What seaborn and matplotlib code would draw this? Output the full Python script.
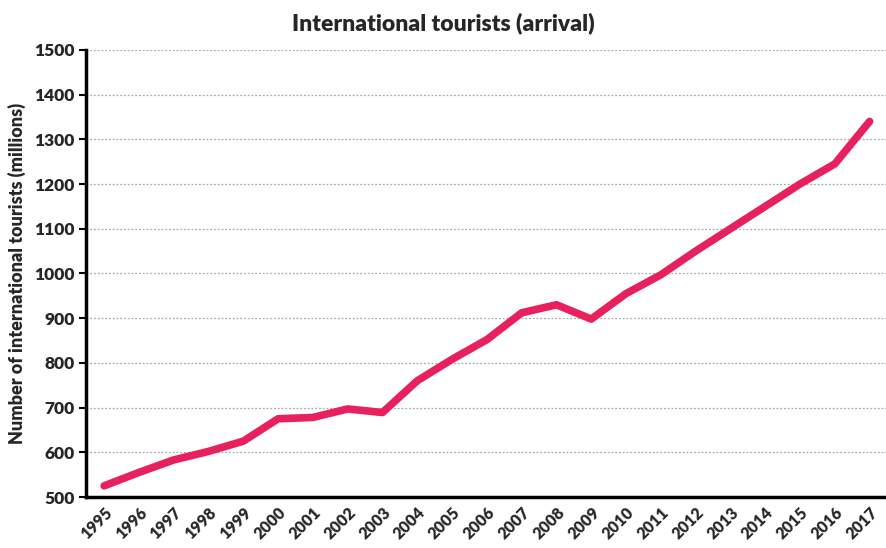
import seaborn as sns
import matplotlib.pyplot as plt
import pandas as pd

# international tourist arrivals, millions
years = list(range(1995, 2018))
arrivals = [525, 555, 583, 602, 625, 675, 678, 697, 689, 760, 808, 852, 912, 930, 898, 955, 997, 1050, 1100, 1150, 1200, 1245, 1340]
yticks = [500, 600, 700, 800, 900, 1000, 1100, 1200, 1300, 1400, 1500]

df = pd.DataFrame({'year': years, 'arrivals': arrivals})

sns.set_style('white')
plt.rcParams['font.family'] = ['Lato', 'DejaVu Sans']
plt.rcParams['font.weight'] = 'bold'

fig = plt.figure(figsize=(8.87, 5.48), dpi=100)
ax = fig.add_axes([0.097, 0.093, 0.903, 0.816])

sns.lineplot(data=df, x='year', y='arrivals', ax=ax, color='#E6215E',
             linewidth=5.5, solid_capstyle='round', solid_joinstyle='round')

ax.set_xlim(1994.48, 2017.5)
ax.set_ylim(500, 1500)
ax.set_yticks(yticks)
ax.set_xticks(years)
ax.set_xticklabels([str(y) for y in years], rotation=45, ha='right',
                   rotation_mode='anchor', fontsize=11.5, fontweight='heavy')
ax.set_yticklabels([str(v) for v in yticks], fontsize=12.5, fontweight='heavy')
ax.yaxis.grid(True, linestyle=(0, (1.5, 1.5)), color='#aaaaaa', linewidth=0.9)
ax.tick_params(axis='y', left=True, length=5, width=1.5, color='black', pad=3)
ax.tick_params(axis='x', bottom=False, pad=2)

for s in ['top', 'right']:
    ax.spines[s].set_visible(False)
ax.spines['left'].set_color('black')
ax.spines['left'].set_linewidth(2.5)
ax.spines['bottom'].set_color('black')
ax.spines['bottom'].set_linewidth(2.5)

ax.set_xlabel('')
ax.set_ylabel('Number of international tourists (millions)', fontsize=13,
              fontweight='heavy', labelpad=6)
fig.suptitle('International tourists (arrival)', fontsize=16.5, fontweight='heavy',
             x=0.5, y=0.978)

plt.savefig('out.png', dpi=100)
